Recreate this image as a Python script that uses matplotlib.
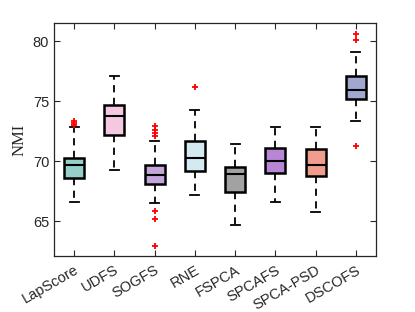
import matplotlib
matplotlib.use('Agg')
import matplotlib.pyplot as plt

methods = ['LapScore', 'UDFS', 'SOGFS', 'RNE', 'FSPCA', 'SPCAFS', 'SPCA-PSD', 'DSCOFS']
whislo = [66.6, 69.3, 66.5, 67.2, 64.7, 66.6, 65.8, 73.3]
q1 = [68.6, 72.2, 68.1, 69.2, 67.4, 69.0, 68.8, 75.2]
med = [69.65, 73.75, 68.85, 70.25, 68.9, 70.0, 69.65, 75.95]
q3 = [70.3, 74.65, 69.7, 71.7, 69.5, 71.1, 71.0, 77.05]
whishi = [72.8, 77.1, 71.7, 74.25, 71.4, 72.8, 72.8, 79.05]
fliers = [
    [73.35, 73.15, 73.0],
    [],
    [72.95, 72.55, 72.3, 72.05, 65.85, 65.15, 62.95],
    [76.15],
    [],
    [],
    [],
    [80.6, 80.1, 71.3],
]
colors = ['#96cfc9', '#f5c8e2', '#c3a5db', '#d3eaf1', '#a2a2a2', '#b985d5', '#f09d8e', '#a0a8cf']

stats = []
for i, m in enumerate(methods):
    stats.append(dict(label=m, whislo=whislo[i], q1=q1[i], med=med[i],
                      q3=q3[i], whishi=whishi[i], fliers=fliers[i]))

fig = plt.figure(figsize=(4.15, 3.12), dpi=100)
ax = fig.add_axes([54 / 415, 1 - 256 / 312, 322 / 415, 233 / 312])

bp = ax.bxp(stats, widths=0.5, patch_artist=True, showfliers=True,
            boxprops=dict(edgecolor='black', linewidth=1.8),
            medianprops=dict(color='black', linewidth=1.5),
            whiskerprops=dict(color='black', linewidth=1.3, linestyle=(0, (4, 3))),
            capprops=dict(color='black', linewidth=1.3),
            capwidths=0.22,
            flierprops=dict(marker='+', markeredgecolor='red', markersize=5,
                            markeredgewidth=1.3, linestyle='none'))
for patch, c in zip(bp['boxes'], colors):
    patch.set_facecolor(c)

ax.set_xlim(0.5, 8.5)
ax.set_ylim(62.1, 81.5)
ax.set_yticks([65, 70, 75, 80])
ax.set_xticks(range(1, 9))
ax.set_xticklabels(methods, rotation=30, ha='right', rotation_mode='anchor',
                   fontsize=10.5, family='Liberation Sans')
for lbl in ax.get_yticklabels():
    lbl.set_family('Liberation Sans')
    lbl.set_fontsize(10.5)
ax.tick_params(direction='in', top=True, right=True, length=4, width=0.8,
               colors='#262626', labelcolor='#262626')
ax.tick_params(axis='x', pad=5)
for s in ax.spines.values():
    s.set_color('#262626')
    s.set_linewidth(0.9)

ax.set_ylabel('NMI', family='Liberation Serif', fontsize=12, color='#262626')

fig.savefig('out.png', dpi=100)
